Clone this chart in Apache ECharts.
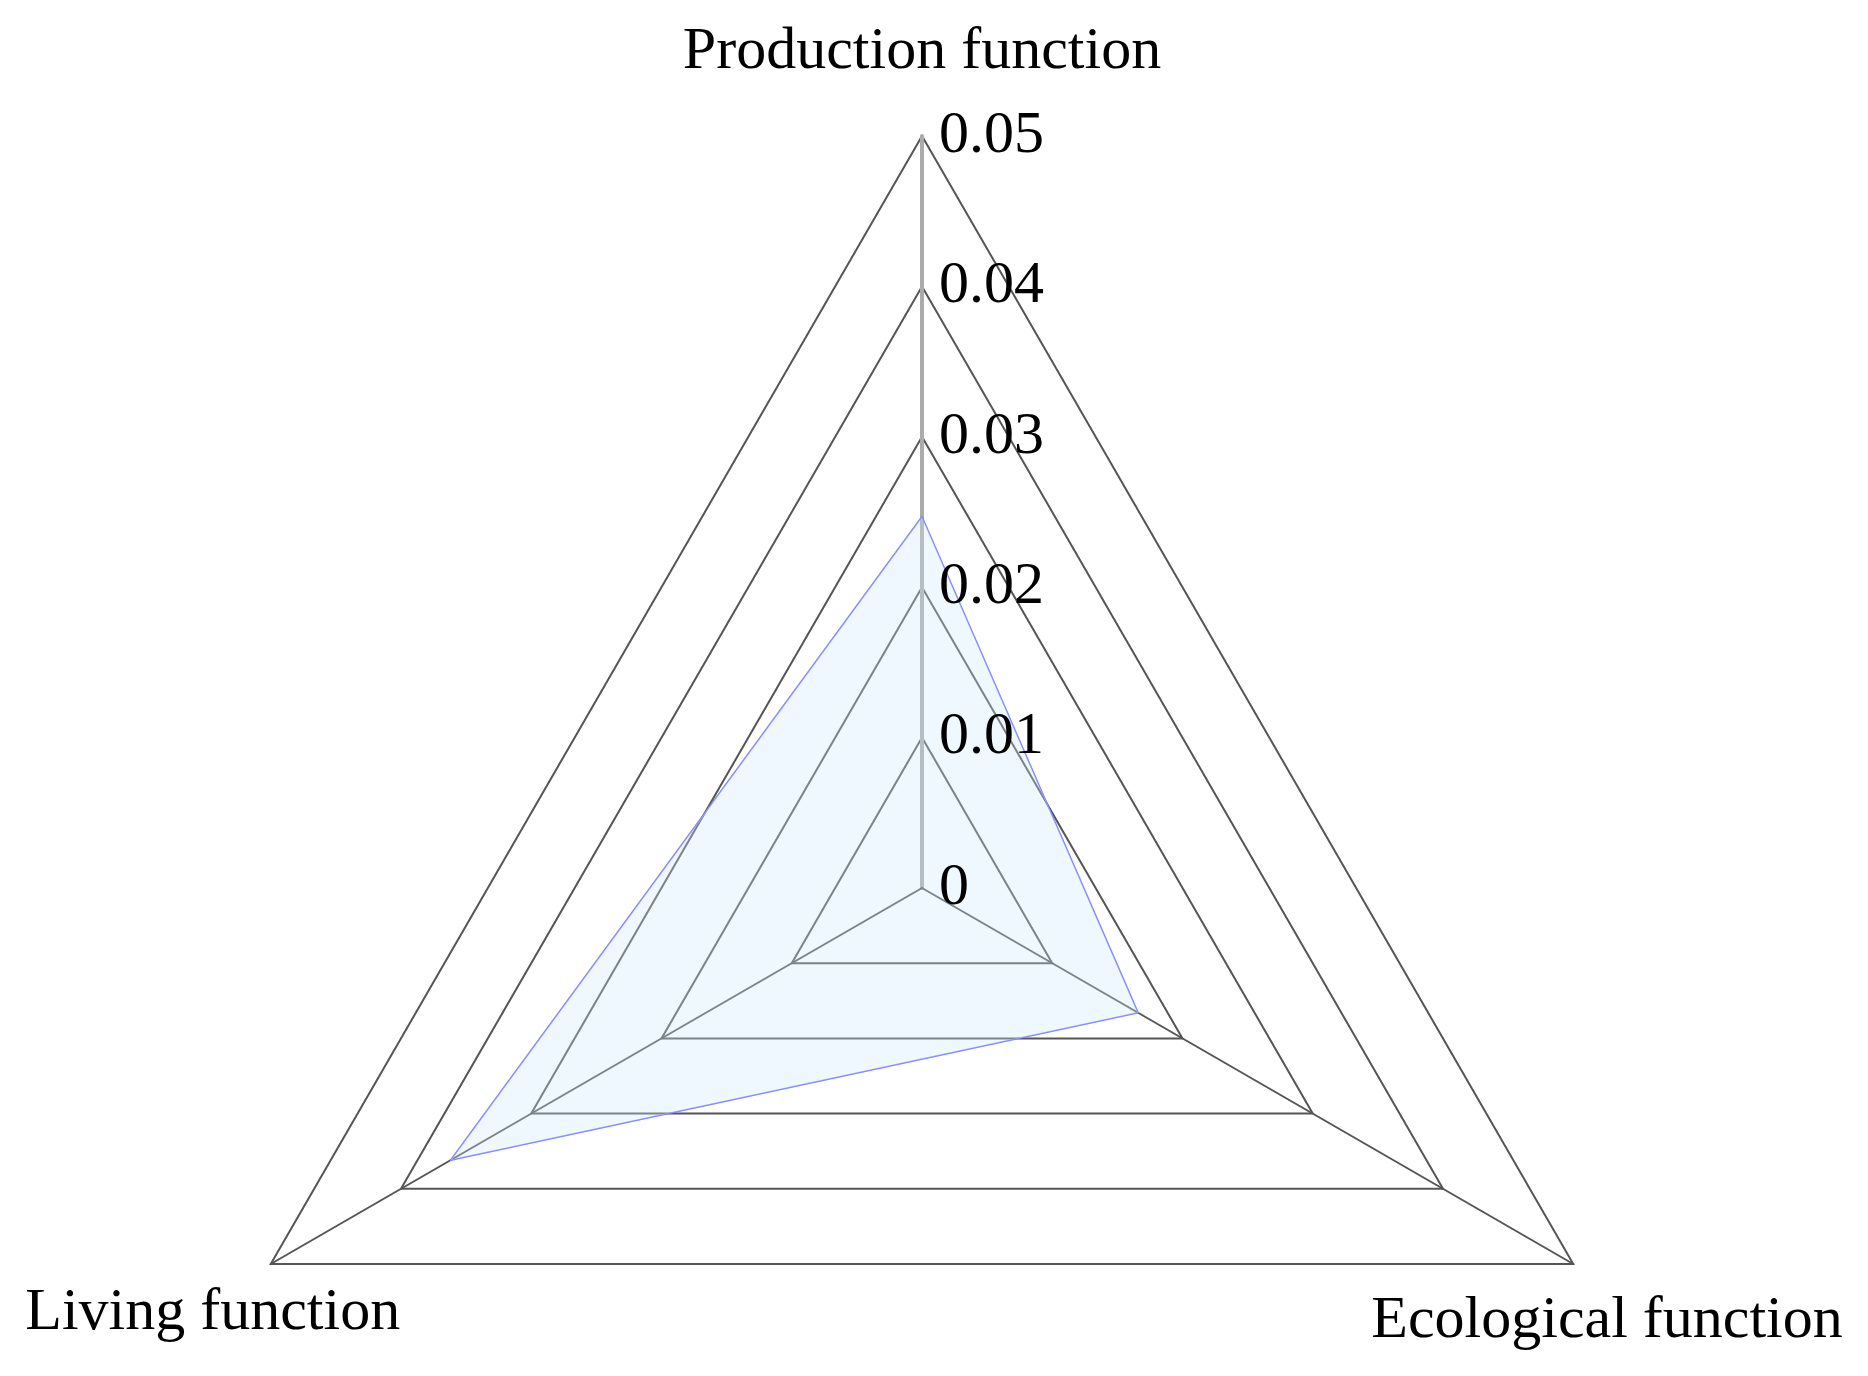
<!DOCTYPE html>
<html>
<head>
<meta charset="utf-8">
<script src="https://cdn.jsdelivr.net/npm/echarts@6/dist/echarts.min.js"></script>
<style>
  html, body { margin: 0; padding: 0; background: #fff; }
  #radar { width: 1868px; height: 1376px; }
</style>
</head>
<body>
<div id="radar"></div>
<script type="text/javascript">
// indicator names (counter-clockwise from the top)
var indicators = ['Production function', 'Living function', 'Ecological function'];
var maxValue = 0.05;
var values = [0.0247, 0.0362, 0.0166];

var serif = '"Liberation Serif", "Times New Roman", serif';

// per-indicator name placement (gap from the vertex + text box tweaks)
var nameGaps = [84, 67, 39];
var nameStyles = [
  { align: 'center', verticalAlign: 'middle' },
  { align: 'center', verticalAlign: 'top', lineHeight: 31 },
  { align: 'center', verticalAlign: 'top', lineHeight: 76 }
];
// the vertical axis is drawn lighter and wider than the other two
var axisColors = ['#ababab', '#555', '#555'];
var axisWidths = [4, 2, 2];

var center = [922, 888];
var radius = 752;

var chart = echarts.init(document.getElementById('radar'));

chart.setOption({
  animation: false,
  backgroundColor: '#fff',
  radar: [{
    // grid + names
    center: center,
    radius: radius,
    shape: 'polygon',
    splitNumber: 5,
    indicator: indicators.map(function (n, i) {
      return {
        name: n, min: 0, max: maxValue,
        nameGap: nameGaps[i],
        nameTextStyle: nameStyles[i],
        axisLine: { lineStyle: { color: axisColors[i], width: axisWidths[i] } }
      };
    }),
    axisName: {
      color: '#000',
      fontFamily: serif,
      fontSize: 60
    },
    axisLine: { lineStyle: { color: '#555', width: 2 } },
    splitLine: { lineStyle: { color: '#555', width: 2 } },
    splitArea: { show: false },
    axisTick: { show: false },
    axisLabel: { show: false }
  }, {
    // tick labels only, kept above the filled area
    z: 10,
    center: center,
    radius: radius,
    shape: 'polygon',
    splitNumber: 5,
    indicator: indicators.map(function (n, i) {
      var ind = { name: n, min: 0, max: maxValue };
      if (i === 0) ind.axisLabel = { show: true };
      return ind;
    }),
    axisName: { show: false },
    axisLine: { show: false },
    splitLine: { show: false },
    splitArea: { show: false },
    axisTick: { show: false },
    axisLabel: {
      show: false,
      color: '#000',
      fontFamily: serif,
      fontSize: 60,
      margin: -17,
      align: 'left',
      formatter: function (v) { return +v.toFixed(2) + ''; }
    }
  }],
  series: [{
    type: 'radar',
    radarIndex: 0,
    symbol: 'none',
    lineStyle: { color: '#7f7fff', width: 1.5 },
    areaStyle: { color: 'rgba(205,232,252,0.45)' },
    data: [{ value: values }]
  }]
});
</script>
</body>
</html>
